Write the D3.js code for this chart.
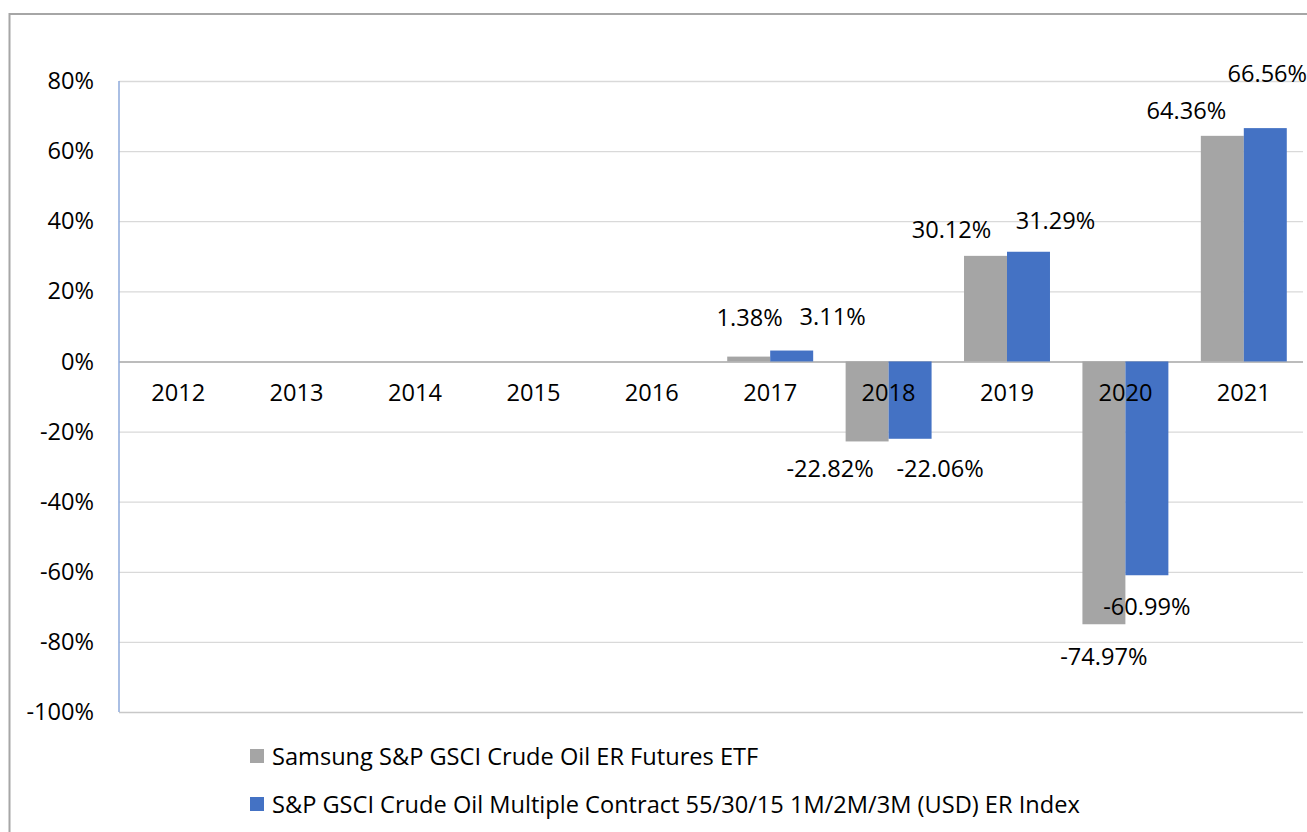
<!DOCTYPE html>
<html>
<head>
<meta charset="utf-8">
<script src="https://cdn.jsdelivr.net/npm/d3@7"></script>
<style>
  html, body { margin: 0; padding: 0; background: #fff; }
  svg { display: block; }
  text { font-family: "Open Sans", "Noto Sans", sans-serif; fill: #000; }
</style>
</head>
<body>
<svg id="chart" width="1307" height="832"></svg>
<script>
// ---- data ----
const years = ["2012","2013","2014","2015","2016","2017","2018","2019","2020","2021"];
const seriesNames = [
  "Samsung S&P GSCI Crude Oil ER Futures ETF",
  "S&P GSCI Crude Oil Multiple Contract 55/30/15 1M/2M/3M (USD) ER Index"
];
const etfReturns   = [null, null, null, null, null, 1.38, -22.82, 30.12, -74.97, 64.36];
const indexReturns = [null, null, null, null, null, 3.11, -22.06, 31.29, -60.99, 66.56];
const yTicks = [-100, -80, -60, -40, -20, 0, 20, 40, 60, 80];
const seriesColors = ["#a5a5a5", "#4472c4"];

// label nudges (layout only, px) for manually placed data labels
const etfLabelDx   = [0, 0, 0, 0, 0, 1, -37, -34, 0, -36];
const etfLabelDy   = [0, 0, 0, 0, 0, -40, 27, -27, 32, -26];
const indexLabelDx = [0, 0, 0, 0, 0, 41, 30, 27, 0, 2];
const indexLabelDy = [0, 0, 0, 0, 0, -35, 29, -32, 31, -55];

// ---- layout ----
const svg = d3.select("#chart");
const W = 1307, H = 832;
const plot = { left: 119, right: 1303, top: 81, bottom: 712 };
const fontSize = 23.6;

// outer chart border (partially visible)
svg.append("path")
  .attr("d", `M9.5,${H} L9.5,14 L${W},14`)
  .attr("fill", "none")
  .attr("stroke", "#a6a6a6")
  .attr("stroke-width", 2);

const x = d3.scaleBand().domain(years).range([plot.left, plot.right]).padding(0);
const bw = x.bandwidth();
const xInner = d3.scaleBand().domain([0, 1]).range([bw * 0.137, bw * 0.863]).padding(0);
const y = d3.scaleLinear().domain([-100, 80]).range([plot.bottom, plot.top]);

// gridlines
const grid = svg.append("g")
  .attr("transform", `translate(${plot.left},0)`)
  .call(d3.axisLeft(y).tickValues(yTicks).tickSize(-(plot.right - plot.left)).tickFormat(""));
grid.select(".domain").remove();
grid.selectAll(".tick line")
  .attr("stroke", d => d === 0 ? "#a6a6a6" : (d === -100 ? "#c8c8c8" : "#d9d9d9"))
  .attr("stroke-width", d => d === 0 ? 1.5 : 1.3);

// y axis labels
const yAx = svg.append("g")
  .attr("transform", `translate(${plot.left},0)`)
  .call(d3.axisLeft(y).tickValues(yTicks).tickSize(0).tickPadding(25).tickFormat(d => d + "%"));
yAx.select(".domain").remove();
yAx.selectAll("text")
  .style("font-size", fontSize + "px")
  .style("font-family", "'Open Sans', sans-serif")
  .attr("fill", "#000");

// bars
const series = [etfReturns, indexReturns];
series.forEach((vals, si) => {
  svg.append("g").selectAll("rect")
    .data(years.map((yr, i) => ({ yr, v: vals[i] })).filter(d => d.v !== null))
    .join("rect")
    .attr("x", d => x(d.yr) + xInner(si))
    .attr("width", xInner.bandwidth())
    .attr("y", d => y(Math.max(0, d.v)))
    .attr("height", d => Math.abs(y(d.v) - y(0)))
    .attr("fill", seriesColors[si]);
});

// y axis line (blue-ish)
svg.append("line")
  .attr("x1", plot.left).attr("x2", plot.left)
  .attr("y1", plot.top).attr("y2", plot.bottom)
  .attr("stroke", "#8eaadb")
  .attr("stroke-width", 1.5);

// x axis category labels at zero line
const xAx = svg.append("g")
  .attr("transform", `translate(0,${y(0)})`)
  .call(d3.axisBottom(x).tickSize(0).tickPadding(23));
xAx.select(".domain").remove();
xAx.selectAll("text")
  .style("font-size", fontSize + "px")
  .style("font-family", "'Open Sans', sans-serif")
  .attr("fill", "#000");

// data labels
const nudges = [[etfLabelDx, etfLabelDy], [indexLabelDx, indexLabelDy]];
const fmt = v => d3.format(".2f")(v).replace("\u2212", "-") + "%";
series.forEach((vals, si) => {
  svg.append("g").selectAll("text")
    .data(years.map((yr, i) => ({ yr, v: vals[i], i })).filter(d => d.v !== null))
    .join("text")
    .attr("x", d => x(d.yr) + xInner(si) + xInner.bandwidth() / 2 + nudges[si][0][d.i])
    .attr("y", d => y(d.v) + nudges[si][1][d.i])
    .attr("text-anchor", "middle")
    .attr("dominant-baseline", "central")
    .style("font-size", fontSize + "px")
    .text(d => fmt(d.v));
});

// legend
const legend = svg.append("g");
const legendY = [756, 804];
seriesNames.forEach((name, si) => {
  legend.append("rect")
    .attr("x", 250).attr("y", legendY[si] - 7)
    .attr("width", 14).attr("height", 14)
    .attr("fill", seriesColors[si]);
  legend.append("text")
    .attr("x", 272).attr("y", legendY[si])
    .attr("dominant-baseline", "central")
    .style("font-size", fontSize + "px")
    .text(name);
});
</script>
</body>
</html>
